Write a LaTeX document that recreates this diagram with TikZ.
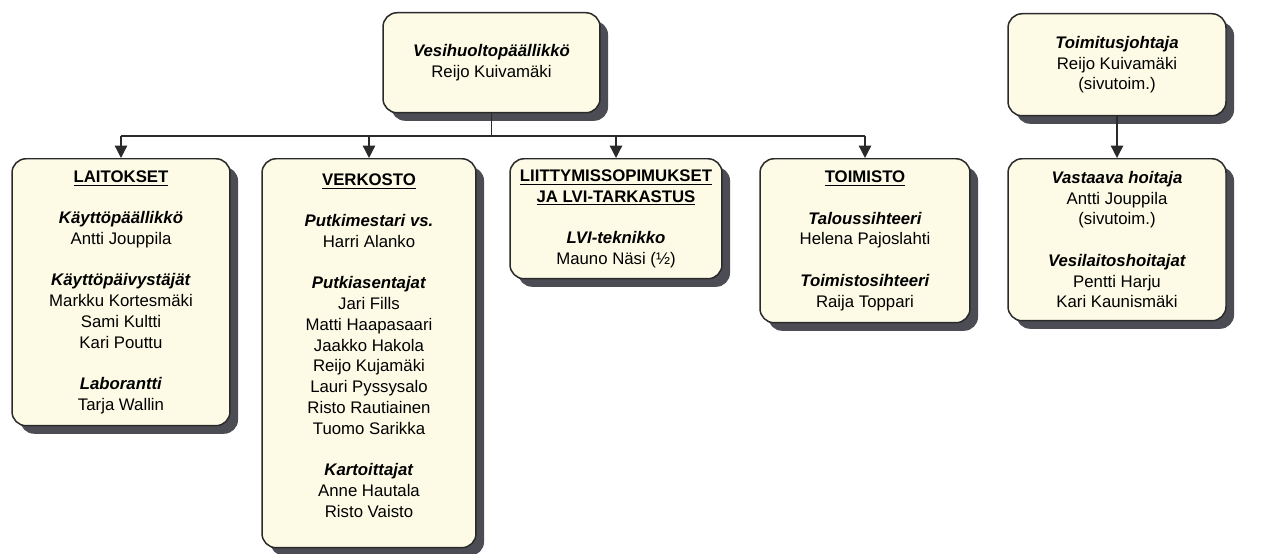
\documentclass[tikz,border=0pt]{standalone}
\usepackage{fontspec}
\setmainfont{Liberation Sans}
\definecolor{mycream}{HTML}{FDFBE6}
\definecolor{myshadow}{HTML}{4C4C54}
\definecolor{myline}{HTML}{2A2A2A}
\usetikzlibrary{
  positioning, calc, arrows.meta, shadows
}
\newcommand{\unittitle}[1]{\underline{\textbf{#1}}}
\newcommand{\rolename}[1]{\textbf{\textit{#1}}}
\newcommand{\gapline}{\\[11.8pt]}
\tikzset{
	orgnode/.style={
			rectangle,
			rounded corners=8pt,
			draw=myline,
			line width=0.85pt,
			fill=mycream,
			align=center,
			anchor=north,
			inner sep=2pt,
			font=\fontsize{9.55}{11.8}\selectfont,
			drop shadow={shadow xshift=4.6pt, shadow yshift=-4.6pt,
					fill=myshadow, opacity=1}
		},
	busline/.style={
			draw=myline,
			line width=0.75pt
		},
	arrowline/.style={
			busline,
			-{Triangle[width=7pt,length=7pt]}
		}
}

\begin{document}
\begin{tikzpicture}[x=0.02cm,y=-0.02cm]
\useasboundingbox (0,0) rectangle (1267,554);

% head of the water utility
\node[orgnode, minimum width=4.34cm, minimum height=2.0cm] (tHead) at (491.5,12)
  {\rolename{Vesihuoltopäällikkö}\\Reijo Kuivamäki};

\node[orgnode, minimum width=4.36cm, minimum height=5.34cm] (tLaitokset) at (121,158)
  {\unittitle{LAITOKSET}\gapline
   \rolename{Käyttöpäällikkö}\\Antti Jouppila\gapline
   \rolename{Käyttöpäivystäjät}\\Markku Kortesmäki\\Sami Kultti\\Kari Pouttu\gapline
   \rolename{Laborantti}\\Tarja Wallin};
\node[orgnode, minimum width=4.28cm, minimum height=7.78cm] (tVerkosto) at (369,158)
  {\unittitle{VERKOSTO}\gapline
   \rolename{Putkimestari vs.}\\Harri Alanko\gapline
   \rolename{Putkiasentajat}\\Jari Fills\\Matti Haapasaari\\Jaakko Hakola\\Reijo Kujamäki\\
   Lauri Pyssysalo\\Risto Rautiainen\\Tuomo Sarikka\gapline
   \rolename{Kartoittajat}\\Anne Hautala\\Risto Vaisto\rule[-9pt]{0pt}{0pt}};
\node[orgnode, minimum width=4.24cm, minimum height=2.4cm] (tLiitty) at (616,158)
  {\unittitle{LIITTYMISSOPIMUKSET}\\\unittitle{JA LVI-TARKASTUS}\gapline
   \rolename{LVI-teknikko}\\Mauno Näsi (½)};
\node[orgnode, minimum width=4.2cm, minimum height=3.28cm] (tToimisto) at (865,158)
  {\unittitle{TOIMISTO}\gapline
   \rolename{Taloussihteeri}\\Helena Pajoslahti\gapline
   \rolename{Toimistosihteeri}\\Raija Toppari};

% company on the right
\node[orgnode, minimum width=4.36cm, minimum height=2.04cm] (tCeo) at (1117,13)
  {\rolename{Toimitusjohtaja}\\Reijo Kuivamäki\\(sivutoim.)};
\node[orgnode, minimum width=4.36cm, minimum height=3.24cm] (tHoitaja) at (1117,158)
  {\rolename{Vastaava hoitaja}\\Antti Jouppila\\(sivutoim.)\gapline
   \rolename{Vesilaitoshoitajat}\\Pentti Harju\\Kari Kaunismäki};

\coordinate (tBus) at (493,136);

\draw[busline] (tHead.south) -- (tHead.south |- tBus);
\draw[busline] (tLaitokset.north |- tBus) -- (tToimisto.north |- tBus);
\draw[arrowline] (tLaitokset.north |- tBus) -- (tLaitokset.north);
\draw[arrowline] (tVerkosto.north |- tBus) -- (tVerkosto.north);
\draw[arrowline] (tLiitty.north |- tBus) -- (tLiitty.north);
\draw[arrowline] (tToimisto.north |- tBus) -- (tToimisto.north);
\draw[arrowline] (tCeo.south) -- (tHoitaja.north);

\end{tikzpicture}
\end{document}
